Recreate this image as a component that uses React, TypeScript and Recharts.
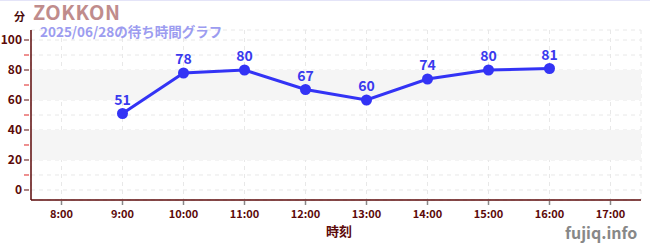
import { LineChart, Line, XAxis, YAxis, CartesianGrid, ReferenceArea, LabelList } from 'recharts';

// 待ち時間 (分) per hour
const hours = [9, 10, 11, 12, 13, 14, 15, 16];
const waits = [51, 78, 80, 67, 60, 74, 80, 81];
const xTicks = [8, 9, 10, 11, 12, 13, 14, 15, 16, 17];
const yTicks = [0, 10, 20, 30, 40, 50, 60, 70, 80, 90, 100];
const bands = [
  [20, 40],
  [60, 80],
];

const data = hours.map((h, i) => ({ hour: h, wait: waits[i] }));

const AXIS = '#5c0a0a';
const FONT = '"Noto Sans CJK JP", "Noto Sans", sans-serif';
const BLUE = '#3333f5';

const YTick = (props: any) => {
  const { x, y, payload } = props;
  const major = payload.value % 20 === 0;
  return (
    <g>
      <line x1={x + 1} x2={x + 6} y1={y} y2={y} stroke={major ? AXIS : '#dd2222'} strokeWidth={1} />
      {major && (
        <text x={x - 1} y={y} dy={4} textAnchor="end" fill={AXIS} fontSize={12} fontWeight={700} fontFamily={FONT}>
          {payload.value}
        </text>
      )}
    </g>
  );
};

const XTick = (props: any) => {
  const { x, y, payload } = props;
  return (
    <g>
      <line x1={x} x2={x} y1={y - 7} y2={y - 3} stroke="#888" strokeWidth={1.5} />
      <text x={x} y={y} dy={10} textAnchor="middle" fill={AXIS} fontSize={11} fontWeight={700} fontFamily={FONT}>
        {`${payload.value}:00`}
      </text>
    </g>
  );
};

export default function App() {
  return (
    <div style={{ position: 'absolute', left: 0, top: 0, width: 650, height: 250, background: '#fff', fontFamily: FONT, lineHeight: 1 }}>
      <div style={{ position: 'absolute', left: 0, top: 0, width: 650, height: 1, background: '#e4e4f8' }} />
      <LineChart width={650} height={250} data={data} margin={{ top: 30, right: 9, left: 0, bottom: 30 }}>
        {bands.map(([a, b]) => (
          <ReferenceArea key={a} y1={a} y2={b} fill="#f5f5f5" fillOpacity={1} stroke="none" ifOverflow="visible" />
        ))}
        <CartesianGrid stroke="#e8e8e8" strokeDasharray="4 4" />
        <XAxis
          type="number"
          dataKey="hour"
          domain={[7.5, 17.5]}
          ticks={xTicks}
          interval={0}
          height={20}
          stroke={AXIS}
          strokeWidth={1.5}
          tickLine={false}
          tick={<XTick />}
        />
        <YAxis
          type="number"
          domain={[-6.67, 106.67]}
          ticks={yTicks}
          interval={0}
          width={31}
          stroke={AXIS}
          strokeWidth={1.5}
          tickLine={false}
          tick={<YTick />}
          allowDataOverflow
        />
        <Line
          type="linear"
          dataKey="wait"
          stroke={BLUE}
          strokeWidth={3}
          dot={{ r: 5.5, fill: BLUE, stroke: BLUE, strokeWidth: 0 }}
          isAnimationActive={false}
        >
          <LabelList dataKey="wait" position="top" offset={9} fill="#3a3aee" fontSize={14} fontWeight={700} fontFamily={FONT} />
        </Line>
      </LineChart>
      <div style={{ position: 'absolute', left: 14, top: 11, fontSize: 11, fontWeight: 700, color: '#4a0a0a' }}>分</div>
      <div style={{ position: 'absolute', left: 33, top: 2, fontSize: 20, fontWeight: 700, color: '#c08c8c', letterSpacing: 0.5 }}>ZOKKON</div>
      <div style={{ position: 'absolute', left: 40, top: 25, fontSize: 13.5, fontWeight: 700, color: '#9c9cf0' }}>2025/06/28の待ち時間グラフ</div>
      <div style={{ position: 'absolute', left: 326, top: 224, fontSize: 13, fontWeight: 700, color: AXIS }}>時刻</div>
      <div style={{ position: 'absolute', left: 565, top: 224, fontSize: 16, fontWeight: 700, color: '#888' }}>fujiq.info</div>
    </div>
  );
}
